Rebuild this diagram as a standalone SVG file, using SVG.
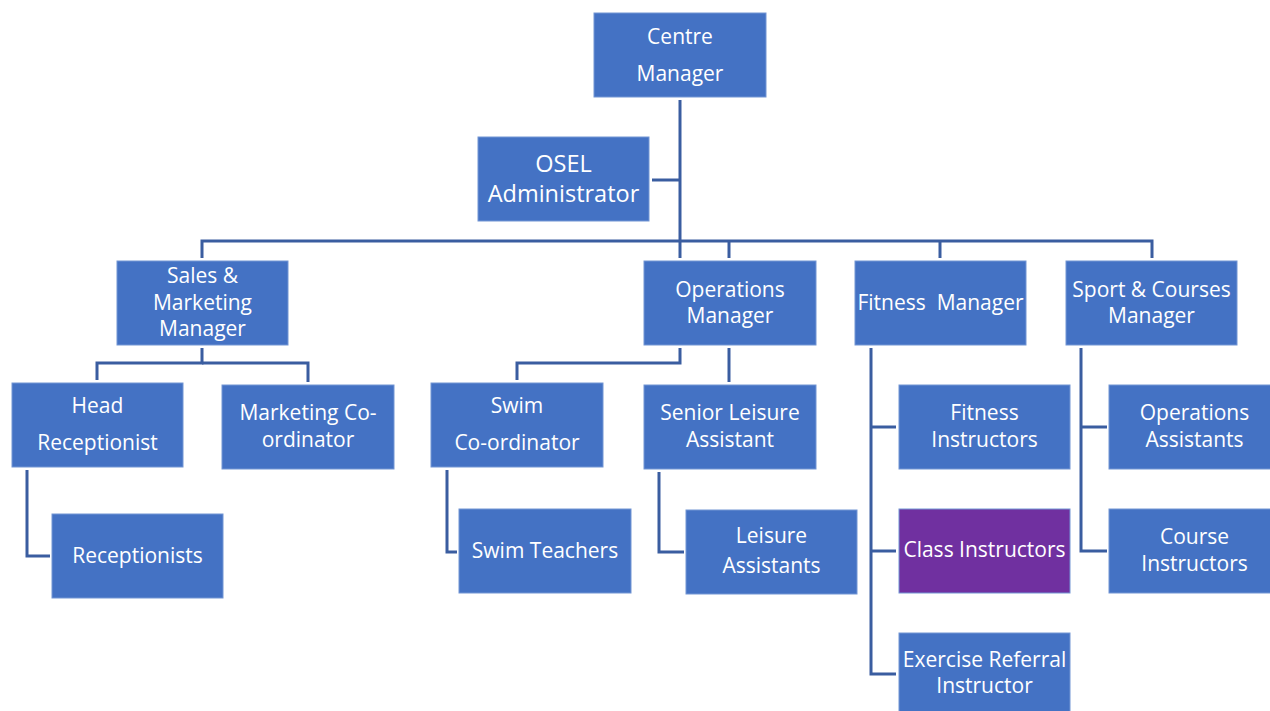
<svg xmlns="http://www.w3.org/2000/svg" width="1270" height="711" viewBox="0 0 1270 711">
<style>
.b{fill:#4472C4;stroke:#7396D4;stroke-width:1}
.p{fill:#7030A0;stroke:#7396D4;stroke-width:1}
text{font-family:"Open Sans","Liberation Sans",sans-serif;font-size:21px;fill:#FFFFFF;text-anchor:middle}
.big{font-size:23.5px}
#connectors path{fill:none;stroke:#3A5DA0;stroke-width:3}
</style>
<rect width="1270" height="711" fill="#FFFFFF"/>
<g id="connectors">
<path d="M680,100 V258"/>
<path d="M652,180 H680"/>
<path d="M202,258 V241 H1152 V258"/>
<path d="M729,241 V258"/>
<path d="M940,241 V258"/>
<path d="M202,348 V363 H97 V380"/>
<path d="M202,363 H308 V382"/>
<path d="M27,470 V556 H50"/>
<path d="M680,348 V363 H517 V380"/>
<path d="M729,348 V382"/>
<path d="M447,470 V552 H457"/>
<path d="M659,472 V552 H684"/>
<path d="M871,348 V674 H896"/>
<path d="M871,427 H896"/>
<path d="M871,551 H896"/>
<path d="M1081,348 V551 H1107"/>
<path d="M1081,427 H1107"/>
</g>
<g id="centre-manager"><rect class="b" x="594" y="13" width="172" height="84"/><text x="680" y="44">Centre</text><text x="680" y="81">Manager</text></g>
<g id="osel-administrator"><rect class="b" x="478" y="137" width="171" height="84"/><text class="big" x="563.5" y="172">OSEL</text><text class="big" x="563.5" y="202">Administrator</text></g>
<g id="sales-marketing-manager"><rect class="b" x="117" y="261" width="171" height="84"/><text x="202.5" y="283">Sales &amp;</text><text x="202.5" y="310">Marketing</text><text x="202.5" y="336">Manager</text></g>
<g id="operations-manager"><rect class="b" x="644" y="261" width="172" height="84"/><text x="730" y="297">Operations</text><text x="730" y="323">Manager</text></g>
<g id="fitness-manager"><rect class="b" x="855" y="261" width="171" height="84"/><text x="940.5" y="310" xml:space="preserve">Fitness  Manager</text></g>
<g id="sport-courses-manager"><rect class="b" x="1066" y="261" width="171" height="84"/><text x="1151.5" y="297">Sport &amp; Courses</text><text x="1151.5" y="323">Manager</text></g>
<g id="head-receptionist"><rect class="b" x="12" y="383" width="171" height="84"/><text x="97.5" y="413">Head</text><text x="97.5" y="450">Receptionist</text></g>
<g id="marketing-coordinator"><rect class="b" x="222" y="385" width="172" height="84"/><text x="308" y="420">Marketing Co-</text><text x="308" y="447">ordinator</text></g>
<g id="receptionists"><rect class="b" x="52" y="514" width="171" height="84"/><text x="137.5" y="563">Receptionists</text></g>
<g id="swim-coordinator"><rect class="b" x="431" y="383" width="172" height="84"/><text x="517" y="413">Swim</text><text x="517" y="450">Co-ordinator</text></g>
<g id="senior-leisure-assistant"><rect class="b" x="644" y="385" width="172" height="84"/><text x="730" y="420">Senior Leisure</text><text x="730" y="447">Assistant</text></g>
<g id="swim-teachers"><rect class="b" x="459" y="509" width="172" height="84"/><text x="545" y="558">Swim Teachers</text></g>
<g id="leisure-assistants"><rect class="b" x="686" y="510" width="171" height="84"/><text x="771.5" y="543">Leisure</text><text x="771.5" y="573">Assistants</text></g>
<g id="fitness-instructors"><rect class="b" x="899" y="385" width="171" height="84"/><text x="984.5" y="420">Fitness</text><text x="984.5" y="447">Instructors</text></g>
<g id="class-instructors"><rect class="p" x="899" y="509" width="171" height="84"/><text x="984.5" y="557">Class Instructors</text></g>
<g id="exercise-referral-instructor"><rect class="b" x="899" y="633" width="171" height="84"/><text x="984.5" y="667">Exercise Referral</text><text x="984.5" y="693">Instructor</text></g>
<g id="operations-assistants"><rect class="b" x="1109" y="385" width="171" height="84"/><text x="1194.5" y="420">Operations</text><text x="1194.5" y="447">Assistants</text></g>
<g id="course-instructors"><rect class="b" x="1109" y="509" width="171" height="84"/><text x="1194.5" y="544">Course</text><text x="1194.5" y="571">Instructors</text></g>
</svg>
